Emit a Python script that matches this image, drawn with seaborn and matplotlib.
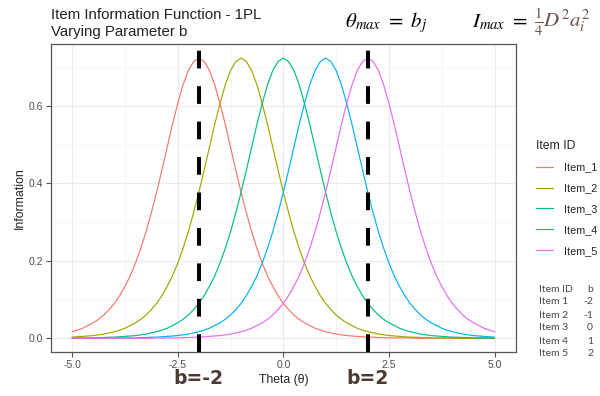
import matplotlib
matplotlib.use("Agg")
import matplotlib.pyplot as plt
import seaborn as sns
import pandas as pd

# ---- data ----
theta = [-5.0, -4.875, -4.75, -4.625, -4.5, -4.375, -4.25, -4.125,
         -4.0, -3.875, -3.75, -3.625, -3.5, -3.375, -3.25, -3.125,
         -3.0, -2.875, -2.75, -2.625, -2.5, -2.375, -2.25, -2.125,
         -2.0, -1.875, -1.75, -1.625, -1.5, -1.375, -1.25, -1.125,
         -1.0, -0.875, -0.75, -0.625, -0.5, -0.375, -0.25, -0.125,
         0.0, 0.125, 0.25, 0.375, 0.5, 0.625, 0.75, 0.875,
         1.0, 1.125, 1.25, 1.375, 1.5, 1.625, 1.75, 1.875,
         2.0, 2.125, 2.25, 2.375, 2.5, 2.625, 2.75, 2.875,
         3.0, 3.125, 3.25, 3.375, 3.5, 3.625, 3.75, 3.875,
         4.0, 4.125, 4.25, 4.375, 4.5, 4.625, 4.75, 4.875,
         5.0]

item_1 = [0.017, 0.021, 0.026, 0.033, 0.040, 0.049, 0.060, 0.074,
          0.090, 0.110, 0.134, 0.161, 0.194, 0.232, 0.275, 0.324,
          0.377, 0.434, 0.493, 0.552, 0.606, 0.654, 0.691, 0.714,
          0.723, 0.714, 0.691, 0.654, 0.606, 0.552, 0.493, 0.434,
          0.377, 0.324, 0.275, 0.232, 0.194, 0.161, 0.134, 0.110,
          0.090, 0.074, 0.060, 0.049, 0.040, 0.033, 0.026, 0.021,
          0.017, 0.014, 0.011, 0.009, 0.007, 0.006, 0.005, 0.004,
          0.003, 0.003, 0.002, 0.002, 0.001, 0.001, 0.001, 0.001,
          0.001, 0.000, 0.000, 0.000, 0.000, 0.000, 0.000, 0.000,
          0.000, 0.000, 0.000, 0.000, 0.000, 0.000, 0.000, 0.000,
          0.000]
item_2 = [0.003, 0.004, 0.005, 0.006, 0.007, 0.009, 0.011, 0.014,
          0.017, 0.021, 0.026, 0.033, 0.040, 0.049, 0.060, 0.074,
          0.090, 0.110, 0.134, 0.161, 0.194, 0.232, 0.275, 0.324,
          0.377, 0.434, 0.493, 0.552, 0.606, 0.654, 0.691, 0.714,
          0.723, 0.714, 0.691, 0.654, 0.606, 0.552, 0.493, 0.434,
          0.377, 0.324, 0.275, 0.232, 0.194, 0.161, 0.134, 0.110,
          0.090, 0.074, 0.060, 0.049, 0.040, 0.033, 0.026, 0.021,
          0.017, 0.014, 0.011, 0.009, 0.007, 0.006, 0.005, 0.004,
          0.003, 0.003, 0.002, 0.002, 0.001, 0.001, 0.001, 0.001,
          0.001, 0.000, 0.000, 0.000, 0.000, 0.000, 0.000, 0.000,
          0.000]
item_3 = [0.001, 0.001, 0.001, 0.001, 0.001, 0.002, 0.002, 0.003,
          0.003, 0.004, 0.005, 0.006, 0.007, 0.009, 0.011, 0.014,
          0.017, 0.021, 0.026, 0.033, 0.040, 0.049, 0.060, 0.074,
          0.090, 0.110, 0.134, 0.161, 0.194, 0.232, 0.275, 0.324,
          0.377, 0.434, 0.493, 0.552, 0.606, 0.654, 0.691, 0.714,
          0.723, 0.714, 0.691, 0.654, 0.606, 0.552, 0.493, 0.434,
          0.377, 0.324, 0.275, 0.232, 0.194, 0.161, 0.134, 0.110,
          0.090, 0.074, 0.060, 0.049, 0.040, 0.033, 0.026, 0.021,
          0.017, 0.014, 0.011, 0.009, 0.007, 0.006, 0.005, 0.004,
          0.003, 0.003, 0.002, 0.002, 0.001, 0.001, 0.001, 0.001,
          0.001]
item_4 = [0.000, 0.000, 0.000, 0.000, 0.000, 0.000, 0.000, 0.000,
          0.001, 0.001, 0.001, 0.001, 0.001, 0.002, 0.002, 0.003,
          0.003, 0.004, 0.005, 0.006, 0.007, 0.009, 0.011, 0.014,
          0.017, 0.021, 0.026, 0.033, 0.040, 0.049, 0.060, 0.074,
          0.090, 0.110, 0.134, 0.161, 0.194, 0.232, 0.275, 0.324,
          0.377, 0.434, 0.493, 0.552, 0.606, 0.654, 0.691, 0.714,
          0.723, 0.714, 0.691, 0.654, 0.606, 0.552, 0.493, 0.434,
          0.377, 0.324, 0.275, 0.232, 0.194, 0.161, 0.134, 0.110,
          0.090, 0.074, 0.060, 0.049, 0.040, 0.033, 0.026, 0.021,
          0.017, 0.014, 0.011, 0.009, 0.007, 0.006, 0.005, 0.004,
          0.003]
item_5 = [0.000, 0.000, 0.000, 0.000, 0.000, 0.000, 0.000, 0.000,
          0.000, 0.000, 0.000, 0.000, 0.000, 0.000, 0.000, 0.000,
          0.001, 0.001, 0.001, 0.001, 0.001, 0.002, 0.002, 0.003,
          0.003, 0.004, 0.005, 0.006, 0.007, 0.009, 0.011, 0.014,
          0.017, 0.021, 0.026, 0.033, 0.040, 0.049, 0.060, 0.074,
          0.090, 0.110, 0.134, 0.161, 0.194, 0.232, 0.275, 0.324,
          0.377, 0.434, 0.493, 0.552, 0.606, 0.654, 0.691, 0.714,
          0.723, 0.714, 0.691, 0.654, 0.606, 0.552, 0.493, 0.434,
          0.377, 0.324, 0.275, 0.232, 0.194, 0.161, 0.134, 0.110,
          0.090, 0.074, 0.060, 0.049, 0.040, 0.033, 0.026, 0.021,
          0.017]

item_ids = ["Item_1", "Item_2", "Item_3", "Item_4", "Item_5"]
item_names = ["Item 1", "Item 2", "Item 3", "Item 4", "Item 5"]
b_values = [-2, -1, 0, 1, 2]
marked_b = [-2, 2]
x_ticks = [-5.0, -2.5, 0.0, 2.5, 5.0]
x_tick_labels = ["-5.0", "-2.5", "0.0", "2.5", "5.0"]
y_ticks = [0.0, 0.2, 0.4, 0.6]
y_tick_labels = ["0.0", "0.2", "0.4", "0.6"]

series = [item_1, item_2, item_3, item_4, item_5]
for s in series:
    assert len(s) == len(theta)
df = pd.DataFrame({
    "Theta": theta * len(item_ids),
    "Information": sum(series, []),
    "Item ID": [i for i in item_ids for _ in theta],
})

palette = ["#F8766D", "#A3A500", "#00BF7D", "#00B0F6", "#E76BF3"]

sns.set_theme(style="white")
plt.rcParams["font.family"] = ["Liberation Sans", "DejaVu Sans"]
plt.rcParams["mathtext.fontset"] = "stix"

fig = plt.figure(figsize=(6.0, 3.96), dpi=100)
ax = fig.add_axes([51 / 600, 1 - 352.3 / 396, 464.7 / 600, 308 / 396])

sns.lineplot(data=df, x="Theta", y="Information", hue="Item ID",
             palette=palette, linewidth=0.85, ax=ax, legend=True)

for b in marked_b:
    ax.axvline(b, color="black", linewidth=2.9, dashes=(4.4, 4.4), zorder=5)

ax.set_xlim(-5.5, 5.5)
ax.set_ylim(-0.0361, 0.7586)
ax.set_xticks(x_ticks)
ax.set_xticklabels(x_tick_labels)
ax.set_yticks(y_ticks)
ax.set_yticklabels(y_tick_labels)
ax.set_xticks([-3.75, -1.25, 1.25, 3.75], minor=True)
ax.set_yticks([0.1, 0.3, 0.5, 0.7], minor=True)
ax.grid(True, which="major", color="#ebebeb", linewidth=0.8)
ax.grid(True, which="minor", color="#f3f3f3", linewidth=0.5)
ax.set_axisbelow(True)
for s in ax.spines.values():
    s.set_color("#555555")
    s.set_linewidth(0.9)
ax.tick_params(axis="both", which="major", length=3.5, width=0.8, color="#555555",
               labelsize=7.5, labelcolor="#4d4d4d", pad=2, bottom=True, left=True)
ax.tick_params(axis="both", which="minor", length=0)

ax.set_xlabel("Theta (θ)", fontsize=8.8, color="#222222", labelpad=3)
ax.set_ylabel("Information", fontsize=8.8, color="#222222", labelpad=2)

# legend
handles, labels = ax.get_legend_handles_labels()
ax.legend(handles, labels, title="Item ID", loc="upper left",
          bbox_to_anchor=(526 / 600, 1 - 130 / 396), bbox_transform=fig.transFigure,
          frameon=False, fontsize=7.8, title_fontsize=8.8, handlelength=1.6,
          handletextpad=1.0, labelspacing=1.0, alignment="left")

# titles
fig.text(51 / 600, 1 - 19 / 396, "Item Information Function - 1PL", fontsize=10.8,
         color="#222222", va="baseline", ha="left")
fig.text(51 / 600, 1 - 36 / 396, "Varying Parameter b", fontsize=10.8,
         color="#222222", va="baseline", ha="left")

# formulas
fig.text(345 / 600, 1 - 27 / 396, r"$\theta_{max}\ =\ b_j$", fontsize=15,
         color="black", va="baseline", ha="left")
t1 = fig.text(472 / 600, 1 - 27 / 396, r"$I_{max}\ =$", fontsize=15,
              color="black", va="baseline", ha="left")
renderer = fig.canvas.get_renderer()
bb = t1.get_window_extent(renderer=renderer)
fig.text((bb.x1 + 6) / 600, 1 - 27 / 396, r"$\frac{1}{4}D^2a_i^2$", fontsize=15,
         color="#6b5449", va="baseline", ha="left")

# b labels under the dashed lines
for b in marked_b:
    ax.annotate(f"b={b}", xy=(b, 0), xycoords=("data", "figure fraction"),
                xytext=(b, 1 - 378.5 / 396), textcoords=("data", "figure fraction"),
                fontsize=13.5, fontweight="bold", color="#4d3b32",
                family=["DejaVu Sans"], ha="center", va="center",
                annotation_clip=False)

# item table
tab_color = "#4f4545"
rows_y = [289, 302, 315, 328, 341, 354]
fig.text(539 / 600, 1 - rows_y[0] / 396, "Item ID", fontsize=7.5, color=tab_color,
         family=["Lato", "DejaVu Sans"], va="center", ha="left")
fig.text(593 / 600, 1 - rows_y[0] / 396, "b", fontsize=7.5, color=tab_color,
         family=["Lato", "DejaVu Sans"], va="center", ha="right")
for name, bv, yy in zip(item_names, b_values, rows_y[1:]):
    fig.text(539 / 600, 1 - yy / 396, name, fontsize=7.5, color=tab_color,
             family=["Lato", "DejaVu Sans"], va="center", ha="left")
    fig.text(593 / 600, 1 - yy / 396, str(bv), fontsize=7.5, color=tab_color,
             family=["Lato", "DejaVu Sans"], va="center", ha="right")

fig.savefig("out.png", dpi=100)
